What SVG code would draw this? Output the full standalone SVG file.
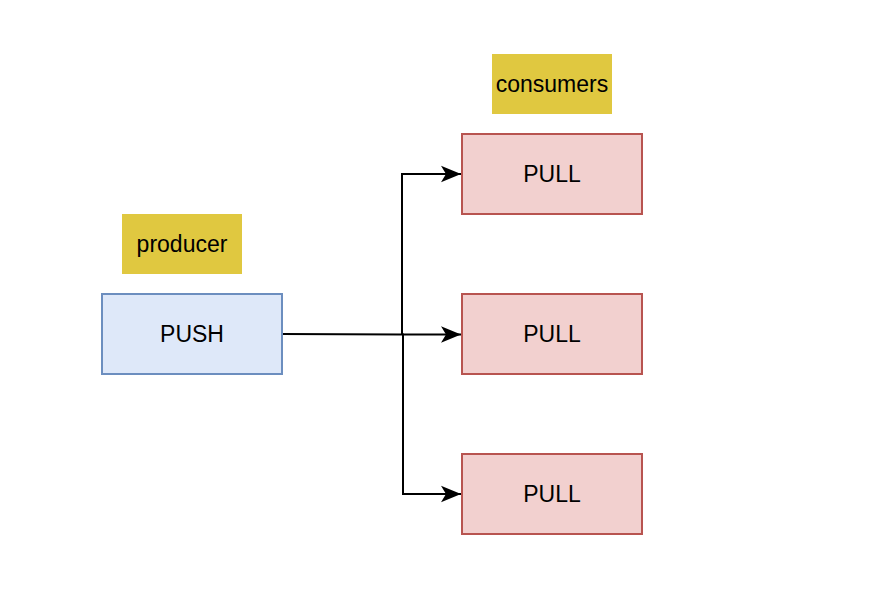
<svg xmlns="http://www.w3.org/2000/svg" width="894" height="598" viewBox="0 0 894 598">
<style>
.lbl{fill:#e0c840;stroke:none}
.push{fill:#dee8f9;stroke:#6c8ebf;stroke-width:2}
.pull{fill:#f2d0cf;stroke:#b85450;stroke-width:2}
text{font-family:"Liberation Sans",Arial,sans-serif;font-size:23px;fill:#000;text-anchor:middle}
.edge{fill:none;stroke:#000;stroke-width:2}
</style>
<defs>
<marker id="arr" markerUnits="userSpaceOnUse" markerWidth="20" markerHeight="20" viewBox="0 0 18 16" refX="18" refY="8" orient="auto">
<path d="M0,0.5 L18,8 L0,15.5 L4.5,8 Z" fill="#000"/>
</marker>
</defs>
<rect width="894" height="598" fill="#fff"/>
<g id="connectors">
<path class="edge" d="M282,334 L402,334.5 L402,174 L461,174" marker-end="url(#arr)"/>
<path class="edge" d="M402,334.5 L461,334.5" marker-end="url(#arr)"/>
<path class="edge" d="M402,334.5 L403,334.5 L403,494 L461,494" marker-end="url(#arr)"/>
</g>
<g id="producer-label">
<rect class="lbl" x="122" y="214" width="120" height="60"/>
<text x="182" y="252">producer</text>
</g>
<g id="consumers-label">
<rect class="lbl" x="492" y="54" width="120" height="60"/>
<text x="552" y="92">consumers</text>
</g>
<g id="push">
<rect class="push" x="102" y="294" width="180" height="80"/>
<text x="192" y="342">PUSH</text>
</g>
<g id="pull1">
<rect class="pull" x="462" y="134" width="180" height="80"/>
<text x="552" y="182">PULL</text>
</g>
<g id="pull2">
<rect class="pull" x="462" y="294" width="180" height="80"/>
<text x="552" y="342">PULL</text>
</g>
<g id="pull3">
<rect class="pull" x="462" y="454" width="180" height="80"/>
<text x="552" y="502">PULL</text>
</g>
</svg>
